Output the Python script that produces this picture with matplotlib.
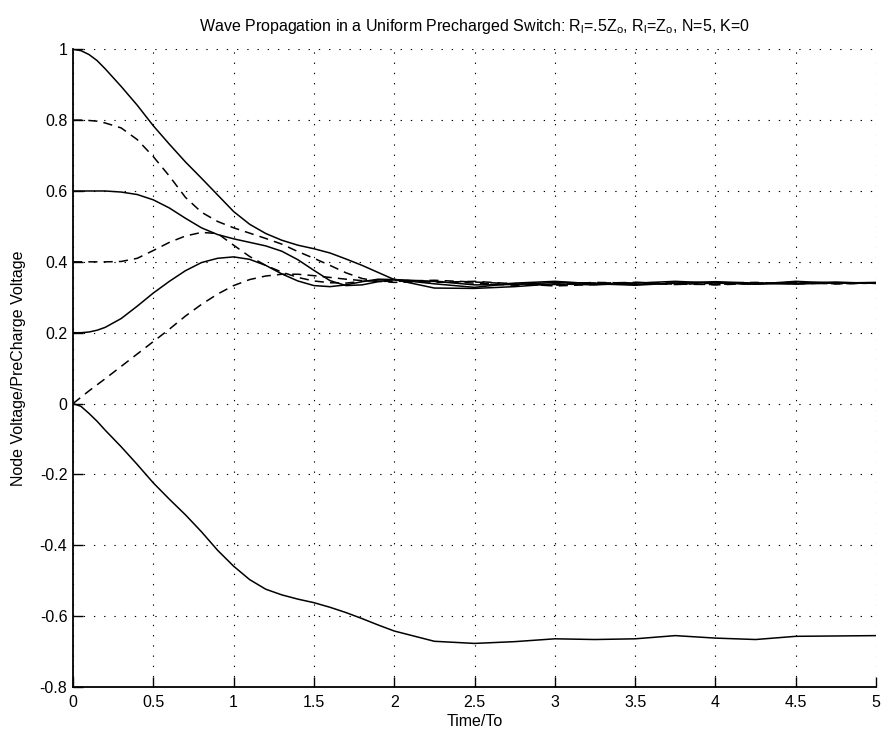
import matplotlib
matplotlib.use("Agg")
import matplotlib.pyplot as plt

plt.rcParams['font.family'] = ['Liberation Sans', 'DejaVu Sans']
plt.rcParams['axes.unicode_minus'] = False

# time grid (Time/To)
t = [0.0, 0.05, 0.1, 0.15, 0.2, 0.3, 0.4, 0.5, 0.6, 0.7, 0.8, 0.9, 1.0,
     1.1, 1.2, 1.3, 1.4, 1.5, 1.6, 1.7, 1.8, 1.9, 2.0,
     2.25, 2.5, 2.75, 3.0, 3.25, 3.5, 3.75, 4.0, 4.25, 4.5, 4.75, 5.0]

node1 = [1.0, 0.996, 0.985, 0.968, 0.945, 0.895, 0.842, 0.784, 0.732, 0.682, 0.636, 0.589, 0.542,
         0.506, 0.480, 0.461, 0.447, 0.437, 0.425, 0.408, 0.390, 0.370, 0.350,
         0.326, 0.325, 0.330, 0.338, 0.335, 0.340, 0.345, 0.340, 0.337, 0.345, 0.340, 0.342]
node2 = [0.8, 0.800, 0.799, 0.797, 0.792, 0.778, 0.745, 0.697, 0.642, 0.582, 0.540, 0.514, 0.496,
         0.481, 0.466, 0.450, 0.429, 0.410, 0.390, 0.369, 0.353, 0.345, 0.342,
         0.345, 0.340, 0.334, 0.334, 0.340, 0.342, 0.337, 0.336, 0.340, 0.342, 0.338, 0.340]
node3 = [0.6, 0.600, 0.600, 0.600, 0.600, 0.597, 0.590, 0.575, 0.552, 0.523, 0.496, 0.477, 0.465,
         0.455, 0.445, 0.430, 0.406, 0.376, 0.347, 0.333, 0.335, 0.344, 0.350,
         0.345, 0.335, 0.336, 0.342, 0.340, 0.336, 0.340, 0.344, 0.340, 0.337, 0.341, 0.340]
node4 = [0.4, 0.400, 0.400, 0.400, 0.400, 0.401, 0.410, 0.432, 0.455, 0.473, 0.483, 0.480, 0.447,
         0.415, 0.390, 0.371, 0.356, 0.346, 0.341, 0.340, 0.345, 0.349, 0.350,
         0.342, 0.345, 0.338, 0.332, 0.336, 0.342, 0.340, 0.335, 0.339, 0.341, 0.338, 0.340]
node5 = [0.2, 0.200, 0.202, 0.207, 0.215, 0.240, 0.275, 0.312, 0.345, 0.375, 0.398, 0.410, 0.414,
         0.407, 0.390, 0.366, 0.346, 0.333, 0.330, 0.335, 0.344, 0.351, 0.350,
         0.338, 0.328, 0.340, 0.345, 0.338, 0.334, 0.340, 0.342, 0.337, 0.340, 0.343, 0.339]
node6 = [0.0, 0.018, 0.036, 0.053, 0.070, 0.105, 0.140, 0.175, 0.210, 0.247, 0.280, 0.309, 0.333,
         0.350, 0.360, 0.365, 0.365, 0.361, 0.356, 0.351, 0.347, 0.345, 0.345,
         0.348, 0.343, 0.338, 0.336, 0.342, 0.340, 0.336, 0.340, 0.342, 0.338, 0.340, 0.341]
load = [0.0, -0.008, -0.028, -0.050, -0.075, -0.122, -0.172, -0.224, -0.270, -0.314, -0.362, -0.414, -0.459,
        -0.497, -0.524, -0.540, -0.552, -0.562, -0.575, -0.590, -0.607, -0.625, -0.642,
        -0.671, -0.677, -0.672, -0.664, -0.666, -0.664, -0.655, -0.662, -0.666, -0.657, -0.656, -0.655]

series = [(node1, '-'), (node2, '--'), (node3, '-'), (node4, '--'),
          (node5, '-'), (node6, '--'), (load, '-')]

xticks = [0, 0.5, 1, 1.5, 2, 2.5, 3, 3.5, 4, 4.5, 5]
xlabels = ['0', '0.5', '1', '1.5', '2', '2.5', '3', '3.5', '4', '4.5', '5']
yticks = [-0.8, -0.6, -0.4, -0.2, 0, 0.2, 0.4, 0.6, 0.8, 1]
ylabels = ['-0.8', '-0.6', '-0.4', '-0.2', '0', '0.2', '0.4', '0.6', '0.8', '1']

fig = plt.figure(figsize=(8.84, 7.31), dpi=100)
ax = fig.add_axes([0.0826, 0.0602, 0.9084, 0.8724])

for vals, ls in series:
    if ls == '--':
        ax.plot(t, vals, color='black', lw=1.1, linestyle=(0, (6, 4)))
    else:
        ax.plot(t, vals, color='black', lw=1.1, linestyle='-')

ax.set_xlim(0, 5)
ax.set_ylim(-0.8, 1)
ax.set_xticks(xticks)
ax.set_xticklabels(xlabels)
ax.set_yticks(yticks)
ax.set_yticklabels(ylabels)
ax.grid(True, color='black', linestyle=(0, (1.2, 8)), linewidth=0.8)
ax.tick_params(direction='in', length=7, width=1, labelsize=11.5,
               top=False, right=False)
ax.tick_params(axis='x', pad=6)
ax.tick_params(axis='y', pad=4)
for s in ['top', 'right']:
    ax.spines[s].set_visible(False)
for s in ['left', 'bottom']:
    ax.spines[s].set_linewidth(1.3)

ax.set_xlabel('Time/To', fontsize=11.5, labelpad=3)
ax.set_ylabel('Node Voltage/PreCharge Voltage', fontsize=11.5, labelpad=10)
ax.set_title(r'Wave Propagation in a Uniform Precharged Switch: R$_\mathregular{l}$=.5Z$_\mathregular{o}$, '
             r'R$_\mathregular{l}$=Z$_\mathregular{o}$, N=5, K=0', fontsize=11.5, pad=13)

fig.savefig('out.png', dpi=100)
